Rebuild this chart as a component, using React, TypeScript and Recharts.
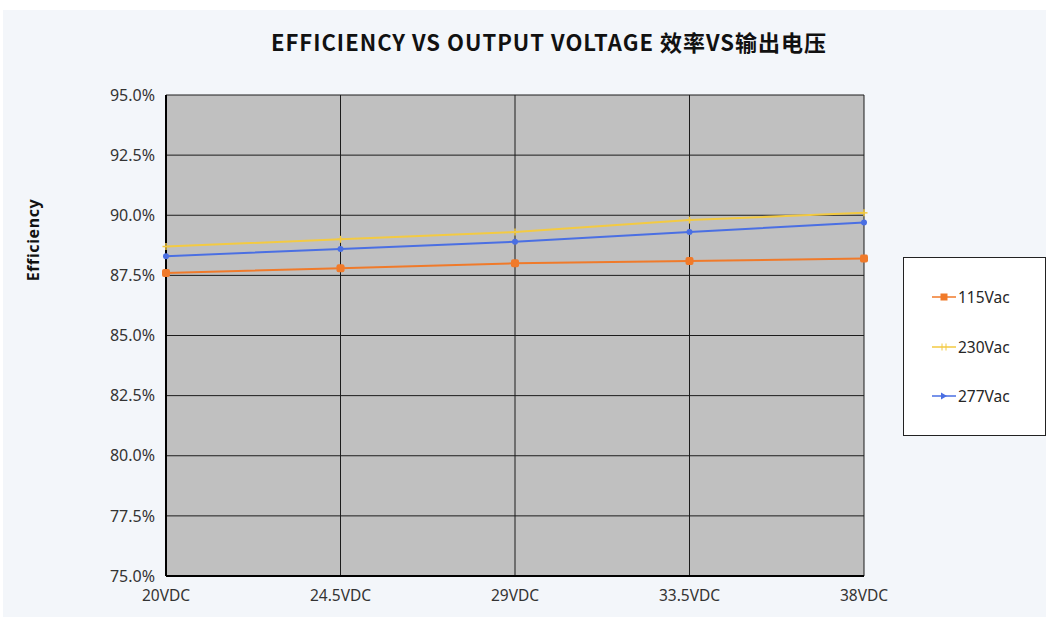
import React from "react";
import { LineChart, Line, XAxis, YAxis, CartesianGrid } from "recharts";

const categories = ["20VDC", "24.5VDC", "29VDC", "33.5VDC", "38VDC"];
const eff115 = [87.6, 87.8, 88.0, 88.1, 88.2];
const eff230 = [88.7, 89.0, 89.3, 89.8, 90.1];
const eff277 = [88.3, 88.6, 88.9, 89.3, 89.7];
const yTicks = [75, 77.5, 80, 82.5, 85, 87.5, 90, 92.5, 95];
const seriesNames = ["115Vac", "230Vac", "277Vac"];
const seriesColors = ["#f07a2a", "#f3ca42", "#4a6fe3"];

const data = categories.map((c, i) => ({
  cat: c,
  s115: eff115[i],
  s230: eff230[i],
  s277: eff277[i],
}));

const FONT = "'Noto Sans', 'DejaVu Sans', sans-serif";

const SquareDot = (props: any) => {
  const { cx, cy, index } = props;
  if (cx == null || cy == null) return <g key={`sq${index}`} />;
  return <rect key={`sq${index}`} x={cx - 4} y={cy - 4} width={8} height={8} rx={2} fill={seriesColors[0]} />;
};
const PlusDot = (props: any) => {
  const { cx, cy, index } = props;
  if (cx == null || cy == null) return <g key={`pl${index}`} />;
  return (
    <g key={`pl${index}`}>
      <line x1={cx} y1={cy - 3.5} x2={cx} y2={cy + 3.5} stroke={seriesColors[1]} strokeWidth={1.5} />
      <line x1={cx - 3.5} y1={cy} x2={cx + 3.5} y2={cy} stroke={seriesColors[1]} strokeWidth={1.5} />
    </g>
  );
};
const RoundDot = (props: any) => {
  const { cx, cy, index } = props;
  if (cx == null || cy == null) return <g key={`rd${index}`} />;
  return <circle key={`rd${index}`} cx={cx} cy={cy} r={3} fill={seriesColors[2]} />;
};

const markerFor = (i: number, x: number, y: number) => {
  if (i === 0) return <rect x={x - 3.5} y={y - 3.5} width={7} height={7} fill={seriesColors[0]} />;
  if (i === 1)
    return (
      <g>
        <line x1={x - 2} y1={y - 3.5} x2={x - 2} y2={y + 3.5} stroke={seriesColors[1]} strokeWidth={1} />
        <line x1={x + 2} y1={y - 3.5} x2={x + 2} y2={y + 3.5} stroke={seriesColors[1]} strokeWidth={1} />
      </g>
    );
  return <path d={`M${x - 3},${y - 3.5} L${x + 3},${y} L${x - 3},${y + 3.5} Z`} fill={seriesColors[2]} />;
};

const LegendBox = () => (
  <div
    style={{
      position: "absolute",
      left: 903,
      top: 257,
      width: 143,
      height: 179,
      background: "#ffffff",
      border: "1px solid #222",
      boxSizing: "border-box",
    }}
  >
    {seriesNames.map((n, i) => (
      <div
        key={n}
        style={{
          position: "absolute",
          left: 28,
          top: 29 + i * 49.5,
          height: 20,
          display: "flex",
          alignItems: "center",
          fontFamily: FONT,
          fontSize: 15.5,
          color: "#262626",
        }}
      >
        <svg width={24} height={14} style={{ display: "block" }}>
          <line x1={0} y1={7} x2={24} y2={7} stroke={seriesColors[i]} strokeWidth={1.5} />
          {markerFor(i, 12, 7)}
        </svg>
        <span style={{ marginLeft: 2 }}>{n}</span>
      </div>
    ))}
  </div>
);

export default function App() {
  return (
    <div
      style={{
        position: "absolute",
        left: 0,
        top: 0,
        width: 1046,
        height: 617,
        background: "#ffffff",
        overflow: "hidden",
      }}
    >
      <div
        style={{
          position: "absolute",
          left: 3,
          top: 10,
          width: 1043,
          height: 607,
          background: "#f3f6fa",
        }}
      />
      <div
        style={{
          position: "absolute",
          left: 0,
          top: 26,
          width: 1098,
          textAlign: "center",
          fontFamily: "'Noto Sans CJK SC', 'Noto Sans', sans-serif",
          fontWeight: 700,
          fontSize: 22,
          letterSpacing: 1,
          color: "#111",
          lineHeight: "30px",
          whiteSpace: "nowrap",
        }}
      >
        EFFICIENCY VS OUTPUT VOLTAGE 效率VS输出电压
      </div>
      <div
        style={{
          position: "absolute",
          left: 33,
          top: 240,
          transform: "translate(-50%, -50%) rotate(-90deg)",
          fontFamily: FONT,
          fontWeight: 700,
          fontSize: 16,
          letterSpacing: 0.6,
          color: "#111",
          whiteSpace: "nowrap",
        }}
      >
        Efficiency
      </div>
      <div style={{ position: "absolute", left: 0, top: 0 }}>
        <LineChart
          width={1046}
          height={617}
          data={data}
          margin={{ top: 95, right: 182, bottom: 6, left: 106 }}
        >
          <CartesianGrid stroke="#1c1c1c" strokeWidth={1} fill="#c0c0c0" fillOpacity={1} />
          <XAxis
            dataKey="cat"
            height={35}
            axisLine={{ stroke: "#000", strokeWidth: 2 }}
            tickLine={false}
            tickSize={0}
            tickMargin={14}
            tick={{ fontFamily: FONT, fontSize: 15.5, fill: "#333" }}
            interval={0}
          />
          <YAxis
            width={60}
            domain={[75, 95]}
            ticks={yTicks}
            type="number"
            allowDataOverflow
            axisLine={{ stroke: "#000", strokeWidth: 2 }}
            tickLine={false}
            tickSize={0}
            tickMargin={11}
            tickFormatter={(v: number) => v.toFixed(1) + "%"}
            tick={{ fontFamily: FONT, fontSize: 16, fill: "#333" }}
          />
          <Line
            type="linear"
            dataKey="s115"
            name={seriesNames[0]}
            stroke={seriesColors[0]}
            strokeWidth={2}
            dot={SquareDot}
            isAnimationActive={false}
          />
          <Line
            type="linear"
            dataKey="s230"
            name={seriesNames[1]}
            stroke={seriesColors[1]}
            strokeWidth={2}
            dot={PlusDot}
            isAnimationActive={false}
          />
          <Line
            type="linear"
            dataKey="s277"
            name={seriesNames[2]}
            stroke={seriesColors[2]}
            strokeWidth={2}
            dot={RoundDot}
            isAnimationActive={false}
          />
        </LineChart>
      </div>
      <LegendBox />
    </div>
  );
}
